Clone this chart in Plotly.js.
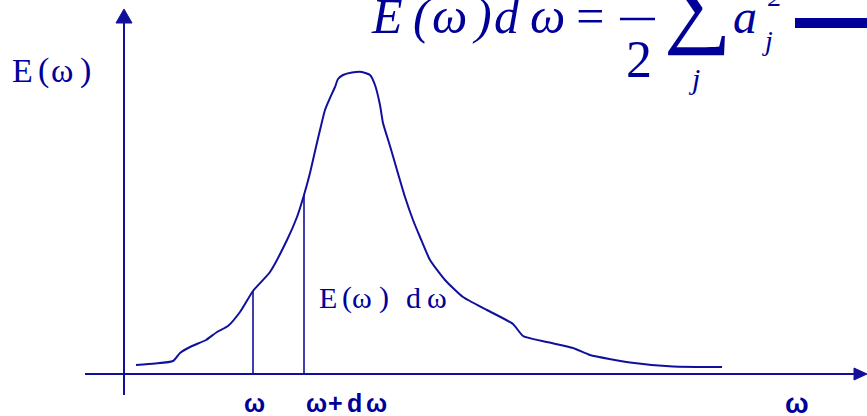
<!DOCTYPE html>
<html>
<head>
<meta charset="utf-8">
<script src="https://cdn.plot.ly/plotly-3.0.1.min.js"></script>
<style>
  html, body { margin: 0; padding: 0; background: #ffffff; }
  #chart { width: 867px; height: 416px; }
</style>
</head>
<body>
<div id="chart"></div>
<script>
// Energy spectrum E(ω): frequency and spectral density (arbitrary units)
const omega = [12, 31, 49, 56, 68, 82, 93, 104, 116, 129, 146, 163, 173, 180, 186,
  192, 196, 201, 206, 211, 214, 219, 228, 238, 246, 251, 256, 259, 266, 273,
  281, 289, 296, 306, 321, 339, 363, 389, 399, 423, 449, 466, 506, 549, 598];
const energy = [9, 10.5, 13, 21, 28, 34, 42, 48, 62, 83, 102, 134, 157, 179, 201,
  227, 244, 264, 276, 287, 295, 299, 301.5, 302, 299, 289, 269, 251, 228, 204,
  177, 154, 137, 114, 94, 77, 64, 50, 38, 32, 26, 19, 11.5, 7.5, 7];

// the band [ω, ω+dω] and the spectrum height at its two edges
const bandOmega = [129, 180];
const bandEnergy = [83, 179];

const ink = '#10109c';
const textInk = '#000099';

// canvas pixel -> paper fraction (margins are zero)
const W = 867, H = 416;
const PX = p => p / W;
const PY = p => 1 - p / H;

const bandX = [], bandY = [];
bandOmega.forEach((w, i) => { bandX.push(w, w, null); bandY.push(0, bandEnergy[i], null); });

const traces = [
  { x: omega, y: energy, type: 'scatter', mode: 'lines',
    line: { color: ink, width: 2, shape: 'spline', smoothing: 0.5 }, hoverinfo: 'skip' },
  { x: bandX, y: bandY, type: 'scatter', mode: 'lines',
    line: { color: ink, width: 1.6 }, hoverinfo: 'skip' }
];

// place single glyphs at given left edges, sharing one vertical centre
function glyphs(chars, xs, yc, font) {
  return chars.map((c, i) => ({
    text: c, xref: 'paper', yref: 'paper', x: PX(xs[i]), y: PY(yc),
    xanchor: 'left', yanchor: 'middle', showarrow: false, font: font
  }));
}

const serif = (size) => ({ family: 'Liberation Serif, Times New Roman, serif', size: size, color: textInk });
const serifIt = (size) => ({ family: 'Liberation Serif, Times New Roman, serif', size: size, color: textInk, style: 'italic' });
const sansBold = (size) => ({ family: 'Liberation Sans, Arial, sans-serif', size: size, color: textInk, weight: 700 });

const annotations = [].concat(
  // axis label
  glyphs(['E', '(', 'ω', ')'], [10, 36, 49, 78], 70, serif(34)),
  // band label
  glyphs(['E', '(', 'ω', ')', 'd', 'ω'], [317, 340, 350, 377, 404, 425], 297, serif(30)),
  // frequency marks under the axis
  glyphs(['ω'], [242], 403, sansBold(25)),
  glyphs(['ω', '+', 'd', 'ω'], [304, 326, 345, 364], 403, sansBold(25)),
  glyphs(['ω'], [783], 403, sansBold(28)),
  // formula
  glyphs(['E', '(', 'ω', ')', 'd', 'ω', '='], [369, 411, 430, 470, 492, 528, 571], 16, serifIt(50)),
  glyphs(['2'], [624], 60, serif(52)),
  glyphs(['∑'], [662], 3, serif(95)),
  glyphs(['j'], [686], 78, serifIt(30)),
  glyphs(['a'], [731], 17, serifIt(48)),
  glyphs(['2'], [766], -3, serifIt(28)),
  glyphs(['j'], [760], 41, serifIt(28))
);

const shapes = [
  // ω axis with arrowhead
  { type: 'line', xref: 'x', yref: 'y', x0: -39, y0: 0, x1: 732, y1: 0, line: { color: ink, width: 2 } },
  { type: 'path', xref: 'x', yref: 'y', path: 'M 730 6 L 743 0 L 730 -6 Z', fillcolor: ink, line: { color: ink, width: 1 } },
  // E(ω) axis with arrowhead
  { type: 'line', xref: 'x', yref: 'y', x0: 0, y0: -21, x1: 0, y1: 352, line: { color: ink, width: 2 } },
  { type: 'path', xref: 'x', yref: 'y', path: 'M -8 351 L 0 365 L 8 351 Z', fillcolor: ink, line: { color: ink, width: 1 } },
  // fraction bars in the formula
  { type: 'line', xref: 'paper', yref: 'paper', x0: PX(620), y0: PY(19), x1: PX(655), y1: PY(19), line: { color: textInk, width: 2.5 } },
  { type: 'line', xref: 'paper', yref: 'paper', x0: PX(795), y0: PY(23), x1: PX(868), y1: PY(23), line: { color: textInk, width: 10 } }
];

const layout = {
  width: W, height: H,
  margin: { l: 0, r: 0, t: 0, b: 0, pad: 0 },
  paper_bgcolor: '#ffffff', plot_bgcolor: '#ffffff',
  showlegend: false,
  xaxis: { range: [-124, 743], visible: false, fixedrange: true },
  yaxis: { range: [-42, 374], visible: false, fixedrange: true },
  shapes: shapes,
  annotations: annotations
};

Plotly.newPlot('chart', traces, layout, { displayModeBar: false, staticPlot: true });
</script>
</body>
</html>
